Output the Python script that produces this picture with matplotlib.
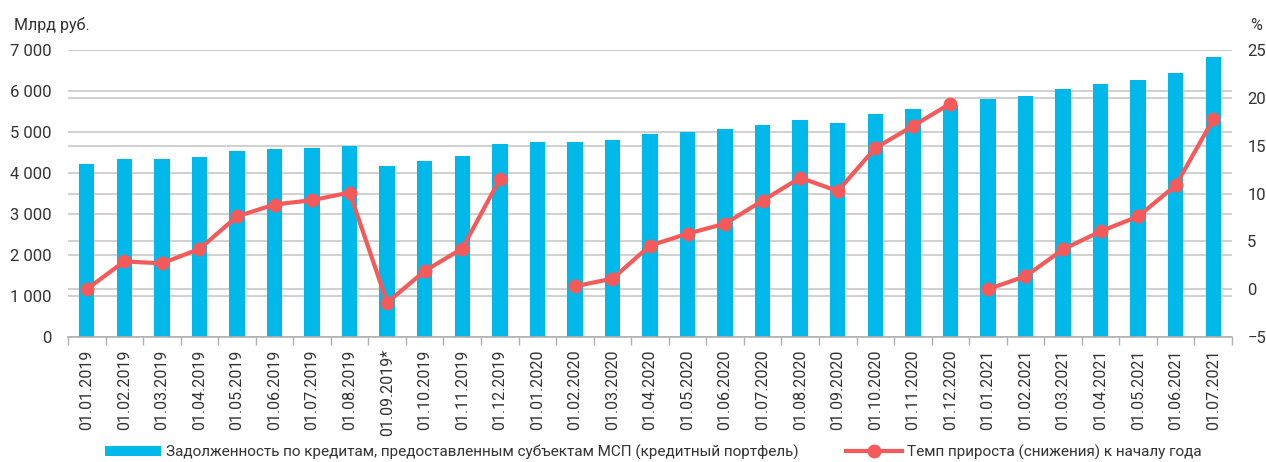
import numpy as np
import matplotlib
matplotlib.use("Agg")
import matplotlib.pyplot as plt

plt.rcParams['font.family'] = ['Roboto', 'DejaVu Sans']

dates = ["01.01.2019", "01.02.2019", "01.03.2019", "01.04.2019", "01.05.2019",
         "01.06.2019", "01.07.2019", "01.08.2019", "01.09.2019*", "01.10.2019",
         "01.11.2019", "01.12.2019", "01.01.2020", "01.02.2020", "01.03.2020",
         "01.04.2020", "01.05.2020", "01.06.2020", "01.07.2020", "01.08.2020",
         "01.09.2020", "01.10.2020", "01.11.2020", "01.12.2020", "01.01.2021",
         "01.02.2021", "01.03.2021", "01.04.2021", "01.05.2021", "01.06.2021",
         "01.07.2021"]

# задолженность, млрд руб.
debt = [4220, 4340, 4330, 4400, 4545, 4595, 4620, 4650, 4160, 4300,
        4405, 4710, 4750, 4755, 4795, 4950, 5010, 5070, 5180, 5290,
        5220, 5440, 5560, 5660, 5815, 5885, 6050, 6170, 6260, 6440,
        6840]

# темп прироста к началу года, %
growth = [0.0, 2.9, 2.7, 4.2, 7.6, 8.85, 9.3, 10.1, -1.4, 1.9,
          4.25, 11.5, np.nan, 0.3, 1.1, 4.55, 5.8, 6.85, 9.25, 11.65,
          10.25, 14.75, 17.05, 19.4, 0.0, 1.35, 4.15, 6.05, 7.6, 10.85,
          17.75]

years = [d.rstrip('*')[-4:] for d in dates]

bar_color = '#00b9eb'
line_color = '#f55a5a'
grid_color = '#c8c8c8'
text_color = '#333333'

fig = plt.figure(figsize=(12.66, 4.62), dpi=100)
ax2 = fig.add_axes([68 / 1266, 1 - 337 / 462, (1232 - 68) / 1266, (337 - 50) / 462])
ax = fig.add_axes(ax2.get_position(), sharex=ax2)
ax.set_zorder(ax2.get_zorder() + 1)
ax.patch.set_visible(False)

x = np.arange(len(dates))

# right (%) axis: only grid + labels, drawn below the bars
ax2.set_ylim(-5, 25)
ax2.set_yticks(range(-5, 26, 5))
ax2.yaxis.tick_right()
ax2.grid(axis='y', color=grid_color, lw=1.2)
ax2.tick_params(axis='y', length=0, labelsize=12, labelcolor=text_color, pad=11)
ax2.tick_params(axis='x', which='both', bottom=False, labelbottom=False)
for s in ax2.spines.values():
    s.set_visible(False)

# left axis: bars
ax.set_ylim(0, 7000)
ax.set_yticks(range(0, 7001, 1000))
ax.set_yticklabels([f"{v:,}".replace(",", " ") for v in range(0, 7001, 1000)])
ax.grid(axis='y', color=grid_color, lw=1.2)
ax.set_axisbelow(True)
bars = ax.bar(x, debt, width=0.41, color=bar_color, zorder=2)

line = None
for yr in sorted(set(years)):
    idx = [i for i, y in enumerate(years) if y == yr]
    line, = ax.plot(x[idx], np.array(growth)[idx], color=line_color, lw=3, marker='o',
                    markersize=9, transform=ax2.transData, zorder=3)

ax.set_xlim(-0.5, len(dates) - 0.5)
ax.set_xticks(x)
ax.set_xticklabels(dates, rotation=90)
ax.set_xticks(np.arange(-0.5, len(dates), 1), minor=True)
ax.tick_params(axis='x', which='major', length=0, labelsize=11.5, labelcolor=text_color, pad=9)
ax.tick_params(axis='x', which='minor', length=6, color='#b0b0b0', width=1)
ax.tick_params(axis='y', length=0, labelsize=12, labelcolor=text_color, pad=12)
for s in ['top', 'left', 'right']:
    ax.spines[s].set_visible(False)
ax.spines['bottom'].set_color('#b0b0b0')
ax.spines['bottom'].set_linewidth(1.2)

fig.text(14 / 1266, 1 - 25 / 462, "Млрд руб.", fontsize=11.5, color=text_color, va='center')
fig.text(1250 / 1266, 1 - 25 / 462, "%", fontsize=11.5, color=text_color, va='center')

fig.legend([bars, line],
           ["Задолженность по кредитам, предоставленным субъектам МСП (кредитный портфель)",
            "Темп прироста (снижения) к началу года"],
           loc='center', bbox_to_anchor=(653 / 1266, 1 - 452 / 462), ncol=2, frameon=False,
           fontsize=11, handlelength=3.7, columnspacing=3.1, handletextpad=0.3,
           labelcolor=text_color)

fig.savefig("out.png", dpi=100)
